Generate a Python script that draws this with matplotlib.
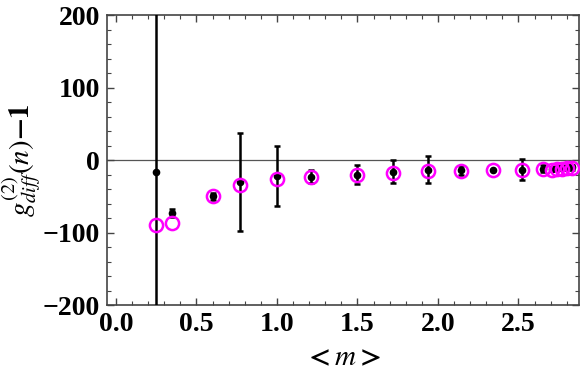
import matplotlib
matplotlib.use("Agg")
import matplotlib.pyplot as plt
from matplotlib.ticker import MultipleLocator

# mean photon number <m>
m = [0.25, 0.35, 0.60, 0.77, 1.00, 1.21, 1.50, 1.72, 1.94, 2.14, 2.34, 2.52, 2.65,
     2.71, 2.74, 2.77, 2.80, 2.83]
# measured g_diff^(2)(n)-1 with error bars
g_meas = [-17, -73, -50, -30, -22, -23, -20, -16, -13, -14, -14, -13, -12,
          -12, -11, -11, -10, -10]
g_err = [300, 5, 5, 68, 42, 9, 13.5, 16, 18, 6, 0, 14, 5,
         3, 3, 3, 3, 3]
# theory (open circles)
g_theory = [-90, -87, -50, -35, -26, -24, -21, -18, -15, -15, -14, -13, -12,
            -13, -12, -12, -11, -11]

plt.rcParams['mathtext.fontset'] = 'stix'
plt.rcParams['font.family'] = 'Liberation Serif'

fig = plt.figure(figsize=(5.81, 3.78), dpi=100)
ax = fig.add_axes([0.184, 0.193, 0.8126, 0.767])

ax.axhline(0, color='#555555', lw=0.9, zorder=1)

ax.errorbar(m, g_meas, yerr=g_err, fmt='o', color='black', ms=4.5,
            elinewidth=1.8, capsize=2.5, capthick=1.8, zorder=3)
ax.plot(m, g_theory, 'o', mfc='none', mec='#ff00ff', mew=1.8, ms=9.5, zorder=4)

ax.set_xlim(-0.056, 2.876)
ax.set_ylim(-200, 200)
ax.xaxis.set_major_locator(MultipleLocator(0.5))
ax.xaxis.set_minor_locator(MultipleLocator(0.1))
ax.yaxis.set_major_locator(MultipleLocator(100))
ax.yaxis.set_minor_locator(MultipleLocator(20))
ax.xaxis.set_major_formatter(plt.FuncFormatter(lambda v, p: f"{v:.1f}"))
ax.yaxis.set_major_formatter(plt.FuncFormatter(lambda v, p: f"{int(v)}".replace('-', '\u2212')))

ax.tick_params(which='both', direction='in', top=True, right=True, color='#444444')
ax.tick_params(which='major', length=5, width=1, labelsize=20, pad=5)
ax.tick_params(which='minor', length=3, width=0.8)
for lab in ax.get_xticklabels() + ax.get_yticklabels():
    lab.set_fontweight('bold')
for sp in ax.spines.values():
    sp.set_color('#444444')
    sp.set_linewidth(1.2)

ax.set_xlabel(r'$\mathbf{<}\mathit{m}\mathbf{>}$', fontsize=21, labelpad=6)
ax.set_ylabel(r'$\mathit{g}_{\mathit{diff}}^{(2)}(\mathit{n})\mathbf{-1}$', fontsize=21)
ax.yaxis.set_label_coords(-0.135, 0.5)

fig.savefig('out.png', dpi=100)
